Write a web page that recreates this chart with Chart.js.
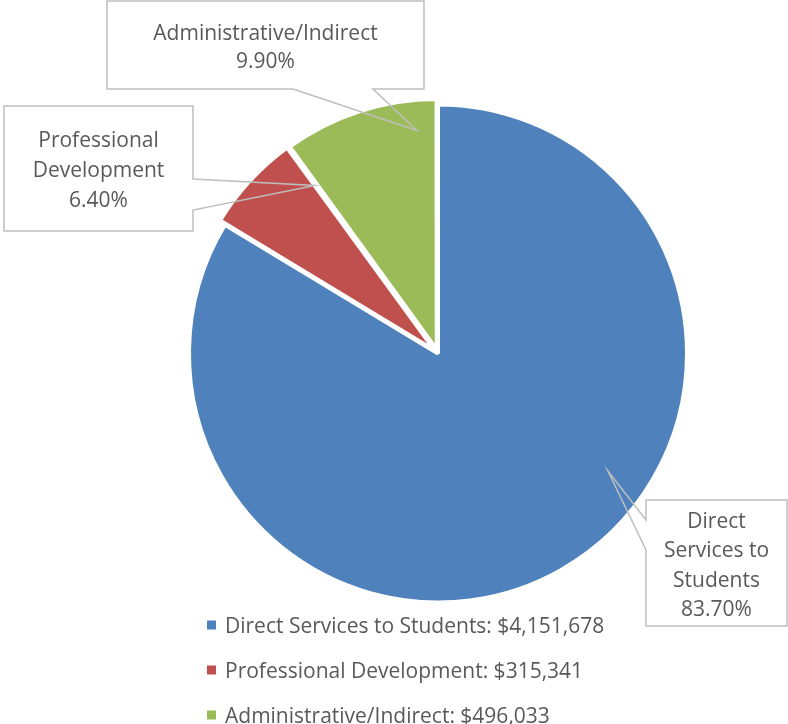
<!DOCTYPE html>
<html>
<head>
<meta charset="utf-8">
<script src="https://cdn.jsdelivr.net/npm/chart.js@4"></script>
<style>
  html, body { margin: 0; padding: 0; background: #ffffff; }
  #c { display: block; }
</style>
</head>
<body>
<canvas id="c" width="788" height="724"></canvas>
<script>
// ---- data ----
const categories = ['Direct Services to Students', 'Professional Development', 'Administrative/Indirect'];
const amounts = [4151678, 315341, 496033];
const percentLabels = ['83.70%', '6.40%', '9.90%'];
const calloutNameLines = [['Direct', 'Services to', 'Students'], ['Professional', 'Development'], ['Administrative/Indirect']];
const colors = ['#4F81BD', '#C0504D', '#9BBB59'];

const FONT = '"Open Sans", sans-serif';
const FONT_SIZE = 21;
const TEXT_SHIFT = 3;
const TEXT_COLOR = '#595959';
const BOX_COLOR = '#BFBFBF';

// callout layout (box rectangles, pointer side, anchor position on slice)
const calloutLayout = [
  { box: [646, 500, 787, 626], side: 'left', base: [520, 550], t: 0.414, rf: 0.83, lineH: 29.5 },
  { box: [4, 106, 193, 231], side: 'right', base: [179, 210], t: 0.99, rf: 0.836, lineH: 30 },
  { box: [107, 1, 424, 89], side: 'bottom', base: [293, 373], t: 0.85, rf: 0.90, lineH: 28.5 }
];

const calloutPlugin = {
  id: 'callouts',
  afterDatasetsDraw(chart) {
    const ctx = chart.ctx;
    const meta = chart.getDatasetMeta(0);
    ctx.save();
    meta.data.forEach((arc, i) => {
      const L = calloutLayout[i];
      const p = arc.getProps(['x', 'y', 'startAngle', 'endAngle', 'outerRadius'], true);
      const ang = p.startAngle + L.t * (p.endAngle - p.startAngle);
      const tipX = p.x + Math.cos(ang) * p.outerRadius * L.rf;
      const tipY = p.y + Math.sin(ang) * p.outerRadius * L.rf;
      const [x1, y1, x2, y2] = L.box;
      ctx.fillStyle = '#ffffff';
      ctx.fillRect(x1, y1, x2 - x1, y2 - y1);
      ctx.beginPath();
      if (L.side === 'bottom') {
        ctx.moveTo(x1, y1); ctx.lineTo(x2, y1); ctx.lineTo(x2, y2);
        ctx.lineTo(L.base[1], y2); ctx.lineTo(tipX, tipY); ctx.lineTo(L.base[0], y2);
        ctx.lineTo(x1, y2);
      } else if (L.side === 'right') {
        ctx.moveTo(x1, y1); ctx.lineTo(x2, y1); ctx.lineTo(x2, L.base[0]);
        ctx.lineTo(tipX, tipY); ctx.lineTo(x2, L.base[1]); ctx.lineTo(x2, y2);
        ctx.lineTo(x1, y2);
      } else {
        ctx.moveTo(x2, y1); ctx.lineTo(x1, y1); ctx.lineTo(x1, L.base[0]);
        ctx.lineTo(tipX, tipY); ctx.lineTo(x1, L.base[1]); ctx.lineTo(x1, y2);
        ctx.lineTo(x2, y2);
      }
      ctx.closePath();
      ctx.strokeStyle = BOX_COLOR;
      ctx.lineWidth = 1.5;
      ctx.lineJoin = 'miter';
      ctx.stroke();

      const lines = calloutNameLines[i].concat([percentLabels[i]]);
      ctx.fillStyle = TEXT_COLOR;
      ctx.font = FONT_SIZE + 'px ' + FONT;
      ctx.textAlign = 'center';
      ctx.textBaseline = 'middle';
      const cx = (x1 + x2) / 2, cy = (y1 + y2) / 2;
      const startY = cy - (lines.length - 1) * L.lineH / 2 + TEXT_SHIFT;
      lines.forEach((ln, k) => ctx.fillText(ln, cx, startY + k * L.lineH));
    });

    // legend
    ctx.textAlign = 'left';
    ctx.textBaseline = 'middle';
    ctx.font = FONT_SIZE + 'px ' + FONT;
    categories.forEach((name, i) => {
      const y = 625 + i * 45;
      ctx.fillStyle = colors[i];
      ctx.fillRect(207, y - 4.5, 9, 9);
      ctx.fillStyle = TEXT_COLOR;
      ctx.fillText(name + ': $' + amounts[i].toLocaleString('en-US'), 225, y + TEXT_SHIFT - 0.5);
    });
    ctx.restore();
  }
};

new Chart(document.getElementById('c'), {
  type: 'pie',
  data: {
    labels: categories,
    datasets: [{
      data: amounts,
      backgroundColor: colors,
      borderColor: '#ffffff',
      borderWidth: 4,
      offset: [0, 16, 16],
      hoverOffset: 0
    }]
  },
  options: {
    responsive: false,
    animation: false,
    events: [],
    layout: { padding: { left: 179, right: 91, top: 94.5, bottom: 111.5 } },
    plugins: {
      legend: { display: false },
      tooltip: { enabled: false }
    }
  },
  plugins: [calloutPlugin]
});
</script>
</body>
</html>
